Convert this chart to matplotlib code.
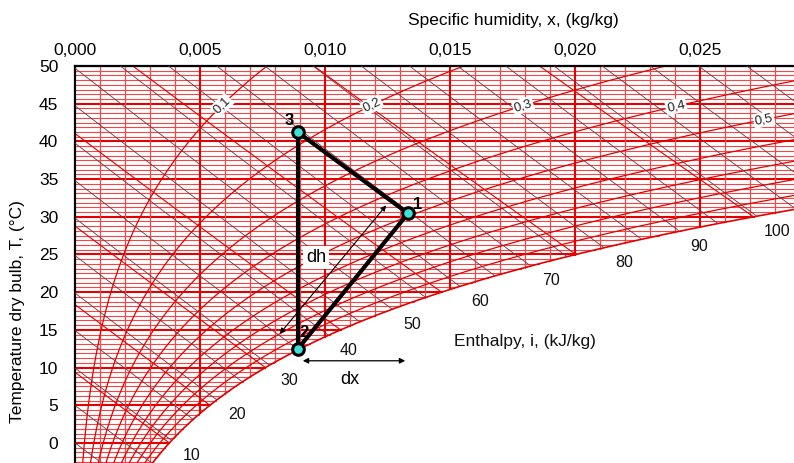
import matplotlib
matplotlib.use("Agg")
import matplotlib.pyplot as plt
import numpy as np
from matplotlib.ticker import FuncFormatter, MultipleLocator

plt.rcParams['font.family'] = ['Liberation Sans', 'DejaVu Sans']

P = 101.325  # kPa

# chart data
rh_levels = [0.1, 0.2, 0.3, 0.4, 0.5, 0.6, 0.7, 0.8, 0.9]
rh_labels = ["0,1", "0,2", "0,3", "0,4", "0,5"]
rh_label_x = [0.00588, 0.01188, 0.01792, 0.02404, 0.02756]
enth_lines = list(range(-5, 130, 5))
enth_labels = [10, 20, 30, 40, 50, 60, 70, 80, 90, 100]
wb_lines = [0, 5, 10, 15, 20, 25, 30]

pt_names = ["1", "2", "3"]
pt_x = [0.01332, 0.00892, 0.00892]
pt_T = [30.45, 12.5, 41.2]

x_lim = (0.0, 0.02876)
T_lim = (-2.66, 50)


def psat(T):
    return 0.61094 * np.exp(17.625 * T / (T + 243.04))


def x_of(T, phi):
    pv = phi * psat(T)
    return 0.622 * pv / (P - pv)


def t_of(x, phi):
    ps = x * P / (0.622 + x) / phi
    a = np.log(ps / 0.61094)
    return 243.04 * a / (17.625 - a)


def enthalpy(T, x):
    return 1.006 * T + x * (2501 + 1.86 * T)


def sat_point(i):
    lo, hi = -20.0, 60.0
    for _ in range(60):
        mid = (lo + hi) / 2
        if enthalpy(mid, x_of(mid, 1.0)) < i:
            lo = mid
        else:
            hi = mid
    return x_of(lo, 1.0), lo


fig = plt.figure(figsize=(7.94, 4.63), dpi=100)
ax = fig.add_axes([75 / 794, 0.0, 1 - 75 / 794, 1 - 66 / 463])
ax.set_xlim(*x_lim)
ax.set_ylim(*T_lim)

thin = '#f04848'
thick = '#e60000'
dark = '#7a3040'

# horizontal temperature lines up to saturation
for T in np.arange(-5, 50.01, 0.625):
    major = abs(T / 5 - round(T / 5)) < 1e-6
    ax.plot([0, x_of(T, 1.0)], [T, T], color=thick if major else thin,
            lw=1.5 if major else 0.8, zorder=1)

# vertical humidity lines from dew point up
for x in np.arange(0.001, 0.0295, 0.001):
    major = abs(x / 0.005 - round(x / 0.005)) < 1e-6
    ax.plot([x, x], [t_of(x, 1.0), 50], color=thick if major else thin,
            lw=1.5 if major else 0.9, zorder=1)

# relative humidity curves
Tc = np.linspace(-10, 50, 400)
for phi in rh_levels:
    ax.plot(x_of(Tc, phi), Tc, color=thick, lw=0.9, zorder=2)
ax.plot(x_of(Tc, 1.0), Tc, color=thick, lw=1.2, zorder=2)

# wet bulb lines
for tw in wb_lines:
    xs = x_of(tw, 1.0)
    Tt = np.linspace(tw, 60, 200)
    xx = ((2501 - 2.326 * tw) * xs - 1.006 * (Tt - tw)) / (2501 + 1.86 * Tt - 4.186 * tw)
    ok = xx >= 0
    ax.plot(xx[ok], Tt[ok], color=thick, lw=0.8, zorder=2)

# enthalpy lines
xg = np.linspace(0, 0.03, 600)
for i in enth_lines:
    Tg = (i - 2501 * xg) / (1.006 + 1.86 * xg)
    ok = xg <= x_of(Tg, 1.0)
    ax.plot(xg[ok], Tg[ok], color=dark, lw=0.6, zorder=3)

# RH labels
for lab, x0 in zip(rh_labels, rh_label_x):
    phi = float(lab.replace(",", "."))
    T = t_of(x0, phi)
    p1 = ax.transData.transform((x_of(T - 1, phi), T - 1))
    p2 = ax.transData.transform((x_of(T + 1, phi), T + 1))
    ang = np.degrees(np.arctan2(p2[1] - p1[1], p2[0] - p1[0]))
    ax.text(x0, T, lab, rotation=ang, ha='center', va='center', fontsize=9.5,
            color='#222222', zorder=5,
            bbox=dict(boxstyle='square,pad=0.1', fc='white', ec='none'))

# enthalpy labels along saturation curve
for i in enth_labels:
    xs, Ts = sat_point(i)
    ax.annotate(str(i), (xs, Ts), xytext=(20, -15), textcoords='offset pixels',
                ha='center', va='center', fontsize=11.5, color='#111111', zorder=5)

ax.text(0.0180, 13.4, "Enthalpy, i, (kJ/kg)", ha='center', va='center',
        fontsize=12.5, color='#111111', zorder=5,
        bbox=dict(boxstyle='square,pad=0.2', fc='white', ec='none'))

# process lines
ax.plot([pt_x[2], pt_x[0], pt_x[1], pt_x[2]], [pt_T[2], pt_T[0], pt_T[1], pt_T[2]],
        color='black', lw=3, zorder=6, solid_capstyle='round')
ax.scatter(pt_x, pt_T, s=70, c='#3fe0d8', edgecolors='black', linewidths=2.2, zorder=7)
for name, x, T, dx, dy in zip(pt_names, pt_x, pt_T, [0.0004, 0.00024, -0.00036], [1.2, 2.1, 1.6]):
    ax.text(x + dx, T + dy, name, fontsize=12, fontweight='bold', ha='center',
            va='center', zorder=8)

# dh and dx arrows
ax.annotate("", xy=(0.00812, 14.2), xytext=(0.01252, 31.8),
            arrowprops=dict(arrowstyle='<|-|>', color='black', lw=0.8,
                            mutation_scale=8), zorder=6)
ax.annotate("", xy=(0.0090, 10.9), xytext=(0.01332, 10.9),
            arrowprops=dict(arrowstyle='<|-|>', color='black', lw=0.9,
                            mutation_scale=8), zorder=6)
ax.text(0.00964, 24.6, "dh", fontsize=13, ha='center', va='center', zorder=8,
        bbox=dict(boxstyle='square,pad=0.15', fc='white', ec='none'))
ax.text(0.0110, 8.4, "dx", fontsize=13, ha='center', va='center', zorder=8)

# axes styling
ax.spines['right'].set_visible(False)
ax.spines['bottom'].set_visible(False)
ax.spines['left'].set_linewidth(1.6)
ax.spines['top'].set_linewidth(1.6)
ax.xaxis.tick_top()
ax.xaxis.set_major_locator(MultipleLocator(0.005))
ax.xaxis.set_major_formatter(FuncFormatter(lambda v, p: f"{v:.3f}".replace(".", ",")))
ax.set_yticks(range(0, 51, 5))
ax.tick_params(axis='both', length=0, labelsize=12.5)
ax.tick_params(axis='y', pad=12)
ax.tick_params(axis='x', pad=6)

fig.text(513 / 794, 1 - 20 / 463, "Specific humidity, x, (kg/kg)", ha='center',
         va='center', fontsize=12.5)
fig.text(18 / 794, 1 - 312 / 463, "Temperature dry bulb, T, (°C)", rotation=90,
         ha='center', va='center', fontsize=12.5)

fig.savefig("out.png", dpi=100)
